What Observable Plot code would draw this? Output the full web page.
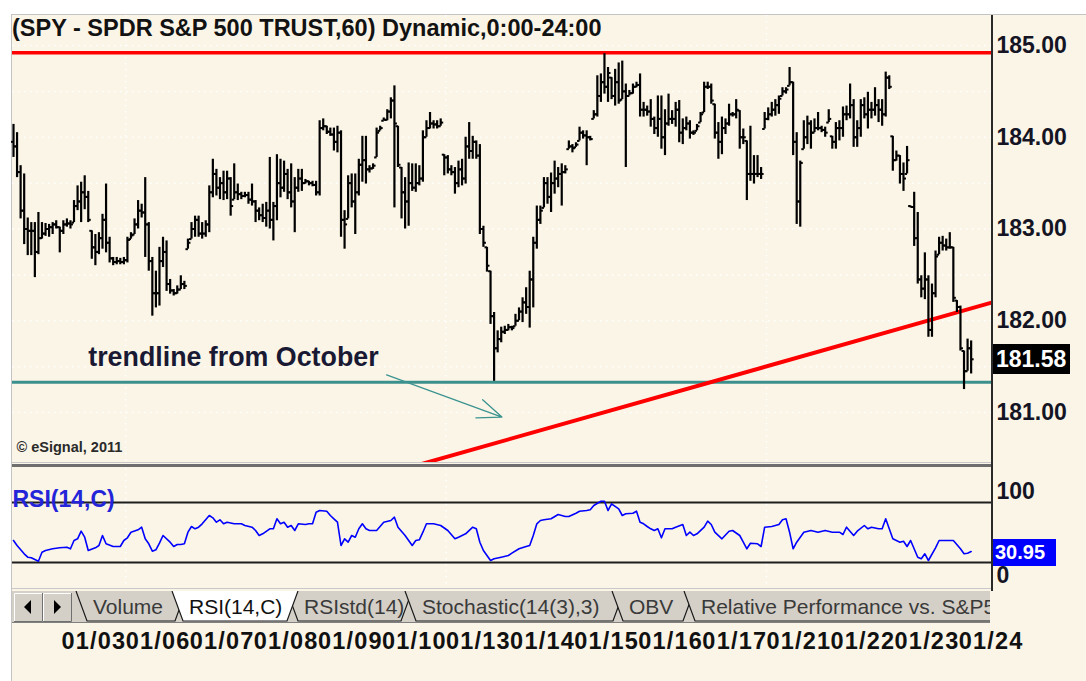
<!DOCTYPE html>
<html><head><meta charset="utf-8">
<script src="https://cdn.jsdelivr.net/npm/d3@7"></script>
<script src="https://cdn.jsdelivr.net/npm/@observablehq/plot@0.6"></script>
<style>
html,body{margin:0;padding:0;background:#fff;width:1086px;height:681px;overflow:hidden;font-family:"Liberation Sans",Arial,Helvetica,sans-serif}
.abs{position:absolute}
#bg{left:11px;top:14px;width:1075px;height:667px;background:#FBF5E7;border-left:1px solid #c4c4c4;border-top:1px solid #c4c4c4}
#title{left:12px;top:14px;font:bold 23.5px "Liberation Sans",Arial,sans-serif;color:#121212;line-height:28px;white-space:nowrap}
svg{overflow:visible}
svg.clip{overflow:hidden}
</style></head>
<body>
<div id="bg" class="abs"></div>
<div id="root"></div>
<script>
// ---------------- DATA ----------------
const titleText = "(SPY - SPDR S&P 500 TRUST,60) Dynamic,0:00-24:00";
const firstOpen = 183.95;
const highs = [
184.14,184.05,183.69,183.60,183.12,183.07,183.07,183.18,183.07,183.06,
183.05,183.07,183.09,183.02,183.09,183.11,183.09,183.31,183.47,183.51,
183.58,183.41,182.98,182.94,182.96,183.16,183.49,182.91,182.69,182.69,
182.68,182.69,182.91,182.96,183.11,183.31,183.27,183.56,183.07,182.69,
182.54,182.80,182.91,182.87,182.45,182.34,182.38,182.49,182.43,182.89,
183.07,183.14,183.14,183.07,183.09,183.47,183.76,183.65,183.56,183.63,
183.63,183.56,183.71,183.49,183.40,183.40,183.40,183.49,183.31,
183.23,183.27,183.29,183.78,183.29,183.81,183.76,183.74,183.65,183.71,
183.56,183.65,183.65,183.54,183.52,183.52,183.52,184.18,184.20,184.12,
184.10,184.10,184.12,184.07,183.20,183.58,183.60,183.60,183.76,184.01,
184.01,183.69,183.71,184.10,184.12,184.21,184.30,184.43,184.56,184.12,
183.67,183.56,183.72,183.71,183.71,183.69,184.07,184.18,184.27,184.18,
184.18,184.20,183.81,183.80,183.69,183.67,183.74,183.76,184.00,184.16,
184.01,183.96,183.92,183.03,182.80,182.54,182.09,181.89,181.93,181.94,
181.96,
181.94,182.07,182.14,182.25,182.36,182.54,182.91,183.25,183.25,183.56,
183.56,183.61,183.74,183.67,183.71,183.69,183.96,183.92,183.94,184.11,
184.07,184.07,184.01,184.29,184.67,184.69,184.91,184.76,184.65,184.74,
184.81,184.83,184.58,184.51,184.58,184.60,184.69,184.38,184.34,184.41,
184.22,184.45,184.45,184.30,184.47,184.29,184.38,184.40,184.20,184.22,
184.18,184.07,184.14,184.27,184.60,184.60,184.58,184.36,184.16,184.22,
184.20,184.36,184.27,184.41,184.29,184.09,183.96,184.12,
183.80,183.80,183.67,184.27,184.32,184.38,184.41,184.45,184.54,184.54,
184.76,184.60,184.05,183.74,184.18,184.23,184.18,184.20,184.27,184.12,
184.11,184.30,184.01,184.16,184.18,184.33,184.34,184.58,184.41,184.18,
184.41,184.43,184.49,184.38,184.54,184.41,184.41,184.71,184.67,184.01,
183.85,183.80,183.72,183.90,183.25,183.40,183.18,182.49,182.74,182.49,
182.40,182.76,182.91,182.92,182.89,182.96,182.80,182.22,182.16,181.67,
181.80,181.78];
const lows = [
183.78,183.56,183.11,182.83,182.71,182.71,182.47,182.72,182.89,182.92,
182.91,182.94,183.00,182.74,182.94,183.02,183.00,183.07,183.20,183.07,
183.21,183.07,182.67,182.60,182.72,182.78,182.74,182.63,182.60,182.61,
182.61,182.61,182.63,182.89,182.94,183.00,183.12,182.69,182.54,182.05,
182.14,182.16,182.58,182.32,182.29,182.27,182.29,182.34,182.34,182.78,
182.89,182.91,182.91,182.89,182.91,182.96,183.34,183.36,183.32,183.31,
183.32,183.14,183.32,183.31,183.32,183.34,183.27,183.25,183.07,
183.09,183.07,183.02,183.00,182.87,183.09,183.34,183.40,183.32,183.23,
182.96,183.40,183.41,183.49,183.47,183.46,183.36,183.36,184.07,184.03,
184.01,183.85,183.83,182.91,182.78,183.11,183.23,182.94,183.36,183.51,
183.49,183.61,183.65,183.78,184.07,184.18,184.18,184.20,183.23,183.67,
183.11,183.00,183.03,183.41,183.40,183.47,183.51,184.00,184.09,184.09,
184.09,184.12,183.58,183.60,183.58,183.38,183.45,183.47,183.49,183.76,
183.76,183.76,182.94,182.80,182.53,181.96,181.34,181.65,181.76,181.85,
181.89,
181.89,181.94,182.00,181.98,182.07,181.92,182.14,182.78,183.05,183.23,
183.27,183.18,183.38,183.45,183.25,183.60,183.87,183.83,183.89,183.96,
183.98,183.69,183.96,184.20,184.22,184.38,184.47,184.38,184.41,184.34,
184.36,184.41,183.67,184.45,184.47,184.54,184.22,184.22,184.23,184.11,
184.03,184.00,183.87,183.80,184.12,184.14,184.11,183.94,183.92,184.07,
183.98,184.02,184.07,184.16,184.27,184.52,184.36,183.98,183.76,183.81,
184.03,184.12,184.22,184.20,183.87,183.92,183.31,183.52,
183.49,183.56,183.54,184.09,184.18,184.22,184.23,184.25,184.45,184.47,
184.56,183.80,183.05,183.02,183.87,183.92,183.87,184.05,184.07,184.05,
184.00,184.16,183.87,183.87,183.96,184.00,184.18,184.20,183.89,183.89,
184.00,184.20,184.09,184.20,184.23,184.16,184.12,184.22,184.52,183.63,
183.74,183.49,183.41,183.60,183.23,182.81,182.40,182.25,182.23,181.82,
181.82,182.25,182.72,182.76,182.76,182.78,182.20,182.09,181.67,181.25,
181.45,181.42];
const closes = [
183.90,183.62,183.20,183.00,182.98,182.98,182.75,182.90,182.95,183.00,
183.02,183.05,183.02,182.98,183.05,183.06,183.05,183.25,183.30,183.40,
183.35,183.10,182.80,182.75,182.90,183.10,182.85,182.68,182.64,182.65,
182.64,182.66,182.88,182.93,183.05,183.20,183.18,183.05,182.65,182.30,
182.30,182.65,182.75,182.40,182.33,182.30,182.34,182.40,182.38,182.85,
183.00,183.10,182.95,182.95,183.05,183.40,183.60,183.45,183.50,183.40,
183.55,183.25,183.40,183.38,183.36,183.37,183.32,183.30,183.20,
183.15,183.12,183.20,183.10,183.25,183.50,183.45,183.60,183.40,183.30,
183.45,183.55,183.50,183.52,183.50,183.48,183.40,184.10,184.12,184.06,
184.03,183.95,184.05,183.10,183.05,183.50,183.30,183.40,183.70,183.75,
183.65,183.66,183.69,184.05,184.10,184.19,184.28,184.40,184.15,183.70,
183.40,183.30,183.50,183.45,183.50,183.55,184.00,184.10,184.15,184.14,
184.12,184.16,183.78,183.65,183.62,183.50,183.65,183.55,183.90,183.85,
183.95,183.80,183.00,182.85,182.60,182.05,181.70,181.80,181.88,181.90,
181.93,
181.92,182.00,182.10,182.20,182.15,182.45,182.85,183.10,183.20,183.50,
183.35,183.50,183.55,183.60,183.62,183.65,183.90,183.88,183.92,184.05,
184.02,184.00,183.98,184.25,184.45,184.60,184.55,184.70,184.45,184.60,
184.40,184.50,184.45,184.48,184.55,184.57,184.30,184.30,184.28,184.20,
184.10,184.20,184.00,184.15,184.20,184.20,184.30,184.05,184.10,184.15,
184.05,184.05,184.12,184.25,184.55,184.55,184.40,184.05,183.95,184.10,
184.15,184.25,184.25,184.30,184.00,184.00,183.60,183.60,
183.60,183.60,183.60,184.20,184.25,184.30,184.35,184.42,184.50,184.52,
184.60,183.95,183.30,183.72,184.00,184.15,184.05,184.10,184.10,184.08,
184.05,184.20,183.95,184.10,184.10,184.25,184.25,184.35,184.00,184.10,
184.35,184.25,184.30,184.30,184.35,184.30,184.25,184.65,184.55,183.75,
183.80,183.60,183.55,183.75,183.24,182.90,182.45,182.35,182.45,181.90,
182.30,182.70,182.85,182.82,182.80,182.80,182.25,182.15,181.70,181.45,
181.70,181.58];

const rsiBar = [0,1,3,4,5,7,8,9,11,12,13,15,16,17,18,19,20,21,23,24,25,26,28,30,31,32,33,35,36,37,
38,39,40,41,42,44,45,46,47,48,49,50,51,52,53,55,56,57,58,59,60,62,64,65,67,68,69,70,72,73,
74,75,76,77,78,79,80,82,83,84,85,86,88,89,90,91,92,93,94,95,96,97,98,99,100,102,104,106,107,108,
110,112,113,114,115,116,118,120,122,124,125,127,129,130,131,132,134,135,137,139,140,142,144,145,146,147,148,149,
151,153,155,156,158,159,161,162,163,165,166,167,168,170,171,172,174,175,176,177,178,179,180,181,182,183,
185,186,188,189,190,191,192,194,195,196,197,199,201,202,204,205,206,207,209,210,211,213,215,216,217,218,
219,220,222,224,226,228,230,232,233,234,236,237,239,240,241,243,244,245,246,247,249,250,251,252,254,255,
256,257,259,260,262,263,264,266,267,268,269];
const rsiVal = [42.0,37.0,28.7,25.3,24.7,21.3,30.3,32.0,33.7,34.3,34.7,35.3,33.7,42.0,43.7,51.3,45.3,32.0,34.7,37.0,
47.0,38.7,36.0,36.0,42.0,44.7,50.3,52.7,55.3,43.7,38.7,31.3,32.7,39.3,47.0,40.3,36.0,38.0,38.0,38.7,
50.3,56.0,53.7,55.3,58.7,67.0,64.7,60.3,62.7,58.7,60.3,58.7,58.7,57.0,55.3,52.0,47.0,48.7,53.7,53.7,
63.7,58.7,60.3,55.3,57.0,52.0,58.7,58.0,58.7,58.7,70.3,72.0,71.3,67.0,63.7,60.3,37.0,43.7,40.3,47.0,
45.3,53.7,58.7,53.7,52.0,52.0,60.3,62.0,65.3,55.3,47.0,37.0,42.0,42.7,50.3,58.7,58.7,57.0,52.0,43.7,
45.3,48.7,55.3,53.7,40.3,32.0,22.0,23.7,25.3,27.0,29.3,33.7,36.0,37.0,47.0,58.7,62.0,62.7,
63.7,68.0,66.0,66.0,69.3,71.3,72.0,72.7,77.0,81.3,81.3,72.0,78.7,73.7,67.0,68.7,69.3,71.3,60.3,58.7,
56.0,53.7,52.0,53.7,44.7,53.7,53.7,55.3,58.0,47.0,50.3,47.0,48.7,55.3,61.3,58.0,50.3,43.7,51.3,52.0,
47.0,40.3,33.7,39.3,38.7,36.0,55.3,56.0,58.0,62.7,63.7,50.3,33.7,40.3,50.3,52.0,50.3,52.0,50.3,50.3,
48.0,55.3,47.0,51.3,57.0,53.7,55.3,53.7,53.7,63.7,53.7,43.7,40.3,41.3,36.0,42.0,25.3,23.7,28.7,22.0,
34.7,42.0,42.0,42.0,42.0,33.7,28.7,29.3,30.95];

const priceTicks = [181, 182, 183, 184, 185];
const gridPrices = [181, 181.5, 182, 182.5, 183, 183.5, 184, 184.5, 185];
const resistance = 184.92;
const support = 181.33;
const trendline = [{bar: 0, price: 179.18}, {bar: 275, price: 182.20}];
const note = {text: "trendline from October", bar: 21, price: 181.60};
const noteArrow = {bar1: 104.8, price1: 181.41, bar2: 137.2, price2: 180.95};
const copyright = "© eSignal, 2011";
const rsiLabel = "RSI(14,C)";
const rsiBands = [80, 20];
const rsiTicks = [100, 0];
const dateLabels = ["01/03","01/06","01/07","01/08","01/09","01/10","01/13","01/14","01/15","01/16","01/17","01/21","01/22","01/23","01/24"];
const dayStart = [13.5,31.5,49.5,67.5,85.5,103.5,121.5,139.5,157.5,175.5,193.5,211.5,229.5,247.5,265.5];
const weekStart = [31.5, 121.5, 211.5];
const tabs = ["Volume","RSI(14,C)","RSIstd(14)","Stochastic(14(3),3)","OBV","Relative Performance vs. S&P500"];
const activeTab = 1;

// ---------------- LAYOUT ----------------
const W = 1086, mL = 12, mR = 94;
const xDomain = [-0.28, 275];
const FONT = '"Liberation Sans", Arial, Helvetica, sans-serif';
const root = document.getElementById("root");
function place(node, left, top) {
  node.style.position = "absolute"; node.style.left = left + "px"; node.style.top = top + "px";
  root.appendChild(node); return node;
}
function div(left, top, w, h, bg, extra) {
  const d = document.createElement("div");
  d.style.cssText = `position:absolute;left:${left}px;top:${top}px;width:${w}px;height:${h}px;background:${bg};${extra||""}`;
  root.appendChild(d); return d;
}

const bars = highs.map((h, i) => {
  const prev = i === 0 ? firstOpen : closes[i - 1];
  return {i, high: h, low: lows[i], close: closes[i], open: Math.max(lows[i], Math.min(h, prev))};
});
const rsiData = rsiBar.map((b, k) => ({bar: b, v: rsiVal[k]}));
const dotted = {stroke: "#ffffff", strokeDasharray: "1.5,4.5", strokeWidth: 1.5};

// price panel
const price = Plot.plot({
  width: W, height: 467,
  marginLeft: mL, marginRight: mR, marginTop: 15, marginBottom: 4,
  x: {domain: xDomain, axis: null},
  y: {domain: [181, 185], range: [412, 45], label: null},
  style: {background: "transparent", fontFamily: FONT, overflow: "visible"},
  marks: [
    Plot.ruleY(gridPrices, dotted),
    Plot.ruleX(weekStart, dotted),
    Plot.ruleY([resistance], {stroke: "#ff0000", strokeWidth: 3.5}),
    Plot.ruleY([support], {stroke: "#3b8f8c", strokeWidth: 3}),
    Plot.line(trendline, {x: "bar", y: "price", stroke: "#ff0000", strokeWidth: 4, clip: true}),
    Plot.arrow([noteArrow], {x1: "bar1", y1: "price1", x2: "bar2", y2: "price2", stroke: "#3b9490", strokeWidth: 1.3, headLength: 30, headAngle: 44}),
    Plot.ruleX(bars, {x: "i", y1: "low", y2: "high", stroke: "#000", strokeWidth: 2.2}),
    Plot.link(bars, {x1: d => d.i - 0.7, x2: "i", y1: "open", y2: "open", stroke: "#000", strokeWidth: 2}),
    Plot.link(bars, {x1: "i", x2: d => d.i + 0.7, y1: "close", y2: "close", stroke: "#000", strokeWidth: 2}),
    Plot.text([note], {x: "bar", y: "price", text: "text", textAnchor: "start", fontSize: 26.8, fontWeight: "bold", fill: "#191934"}),
    Plot.text([copyright], {frameAnchor: "bottom-left", dx: 4, dy: -12, textAnchor: "start", fontSize: 14.5, fontWeight: "bold", fill: "#2a2a2a"}),
    Plot.axisY(priceTicks, {anchor: "right", tickFormat: d => d.toFixed(2), tickSize: 0, tickPadding: 4, fontSize: 23, fontWeight: "bold", fill: "#141424", label: null})
  ]
});
place(price, 0, 0);

// title
const t = document.createElement("div"); t.id = "title"; t.className = "abs"; t.textContent = titleText; root.appendChild(t);

// separators & axis line
div(12, 462, 980, 1, "#c8c8c8");
div(12, 464, 980, 3, "#6e6e6e");
div(12, 588, 980, 1, "#c8c8c8");

// RSI panel
const rsiTop = 467;
const rsi = Plot.plot({
  width: W, height: 123,
  marginLeft: mL, marginRight: mR, marginTop: 1, marginBottom: 2,
  x: {domain: xDomain, axis: null},
  y: {domain: [0, 100], range: [115, 15], axis: null},
  style: {background: "transparent", fontFamily: FONT, overflow: "visible"},
  marks: [
    Plot.ruleX(weekStart, dotted),
    Plot.ruleY(rsiBands, {stroke: "#1e1e1e", strokeWidth: 2}),
    Plot.line(rsiData, {x: "bar", y: "v", stroke: "#0000ff", strokeWidth: 1.6}),
    Plot.text([rsiLabel], {frameAnchor: "top-left", dy: 22, textAnchor: "start", fontSize: 23, fontWeight: "bold", fill: "#2424d8"}),
    Plot.text([rsiTicks[0]], {y: d => d, text: d => String(d), frameAnchor: "right", dx: 4, textAnchor: "start", lineAnchor: "top", fontSize: 23, fontWeight: "bold", fill: "#141424"}),
    Plot.text([rsiTicks[1]], {y: d => d, text: d => String(d), frameAnchor: "right", dx: 4, textAnchor: "start", lineAnchor: "bottom", fontSize: 23, fontWeight: "bold", fill: "#141424"})
  ]
});
place(rsi, 0, rsiTop);

div(991, 15, 2, 576, "#2a2a2a");

// value boxes (positions from the library's own scales)
const lastClose = closes[closes.length - 1];
const yc = price.scale("y").apply(lastClose);
const b1 = div(993, Math.round(yc - 15), 77, 30, "#000", `color:#fff;font:bold 23px ${FONT};line-height:30px;text-indent:3px`);
b1.textContent = lastClose.toFixed(2);
const lastRsi = rsiVal[rsiVal.length - 1];
const yr = rsi.scale("y").apply(lastRsi) + rsiTop;
const b2 = div(993, Math.round(yr - 12), 63, 27, "#0000ff", `color:#fff;font:bold 20px ${FONT};line-height:27px;text-indent:2px`);
b2.textContent = lastRsi.toFixed(2);

// tab bar
const tb = d3.create("svg").attr("width", 990).attr("height", 34).attr("class", "clip");
tb.append("rect").attr("x", 12).attr("y", 0).attr("width", 978).attr("height", 32).attr("fill", "#d4d0c8");
[[14, -1], [43, 1]].forEach(([bx, dir]) => {
  tb.append("rect").attr("x", bx).attr("y", 2).attr("width", 28).attr("height", 28).attr("fill", "#d4d0c8");
  tb.append("path").attr("d", `M${bx + 0.5},30 V2.5 H${bx + 28}`).attr("stroke", "#fff").attr("fill", "none");
  tb.append("path").attr("d", `M${bx + 28.5},2 V30.5 H${bx}`).attr("stroke", "#707070").attr("fill", "none");
  const cx = bx + 14, cy = 16;
  tb.append("path").attr("d", `M${cx + 4 * dir},${cy} L${cx - 3 * dir},${cy - 7} L${cx - 3 * dir},${cy + 7}Z`).attr("fill", "#000");
});
const tabEdges = [[76, 186], [172, 298], [287, 412], [405, 624], [612, 694], [684, 1150]];
const order = tabs.map((_, i) => i).filter(i => i !== activeTab).concat([activeTab]);
order.forEach(i => {
  const [a, b] = tabEdges[i];
  const act = i === activeTab;
  tb.append("path").attr("d", `M${a},0 L${a + 11},30 L${b - 11},30 L${b},0`)
    .attr("fill", act ? "#ffffff" : "#d4d0c8").attr("stroke", "#1a1a1a").attr("stroke-width", 1.2);
  tb.append("text").attr("x", a + 17).attr("y", 16).attr("dy", "0.35em")
    .attr("font-family", FONT).attr("font-size", 21).attr("fill", act ? "#111" : "#3a3a3a").text(tabs[i]);
});
tb.append("rect").attr("x", 12).attr("y", 31).attr("width", 978).attr("height", 1).attr("fill", "#808080");
place(tb.node(), 0, 591);

// date labels
const dates = Plot.plot({
  width: W, height: 32,
  marginLeft: mL, marginRight: mR, marginTop: 0, marginBottom: 0,
  x: {domain: xDomain, axis: null},
  style: {background: "transparent", fontFamily: FONT, overflow: "visible", letterSpacing: "1.2px"},
  marks: [
    Plot.text(dateLabels, {x: (d, i) => dayStart[i], text: d => d, textAnchor: "start", fontSize: 23.5, fontWeight: "bold", fill: "#111"})
  ]
});
place(dates, 0, 625);
</script>
</body></html>
